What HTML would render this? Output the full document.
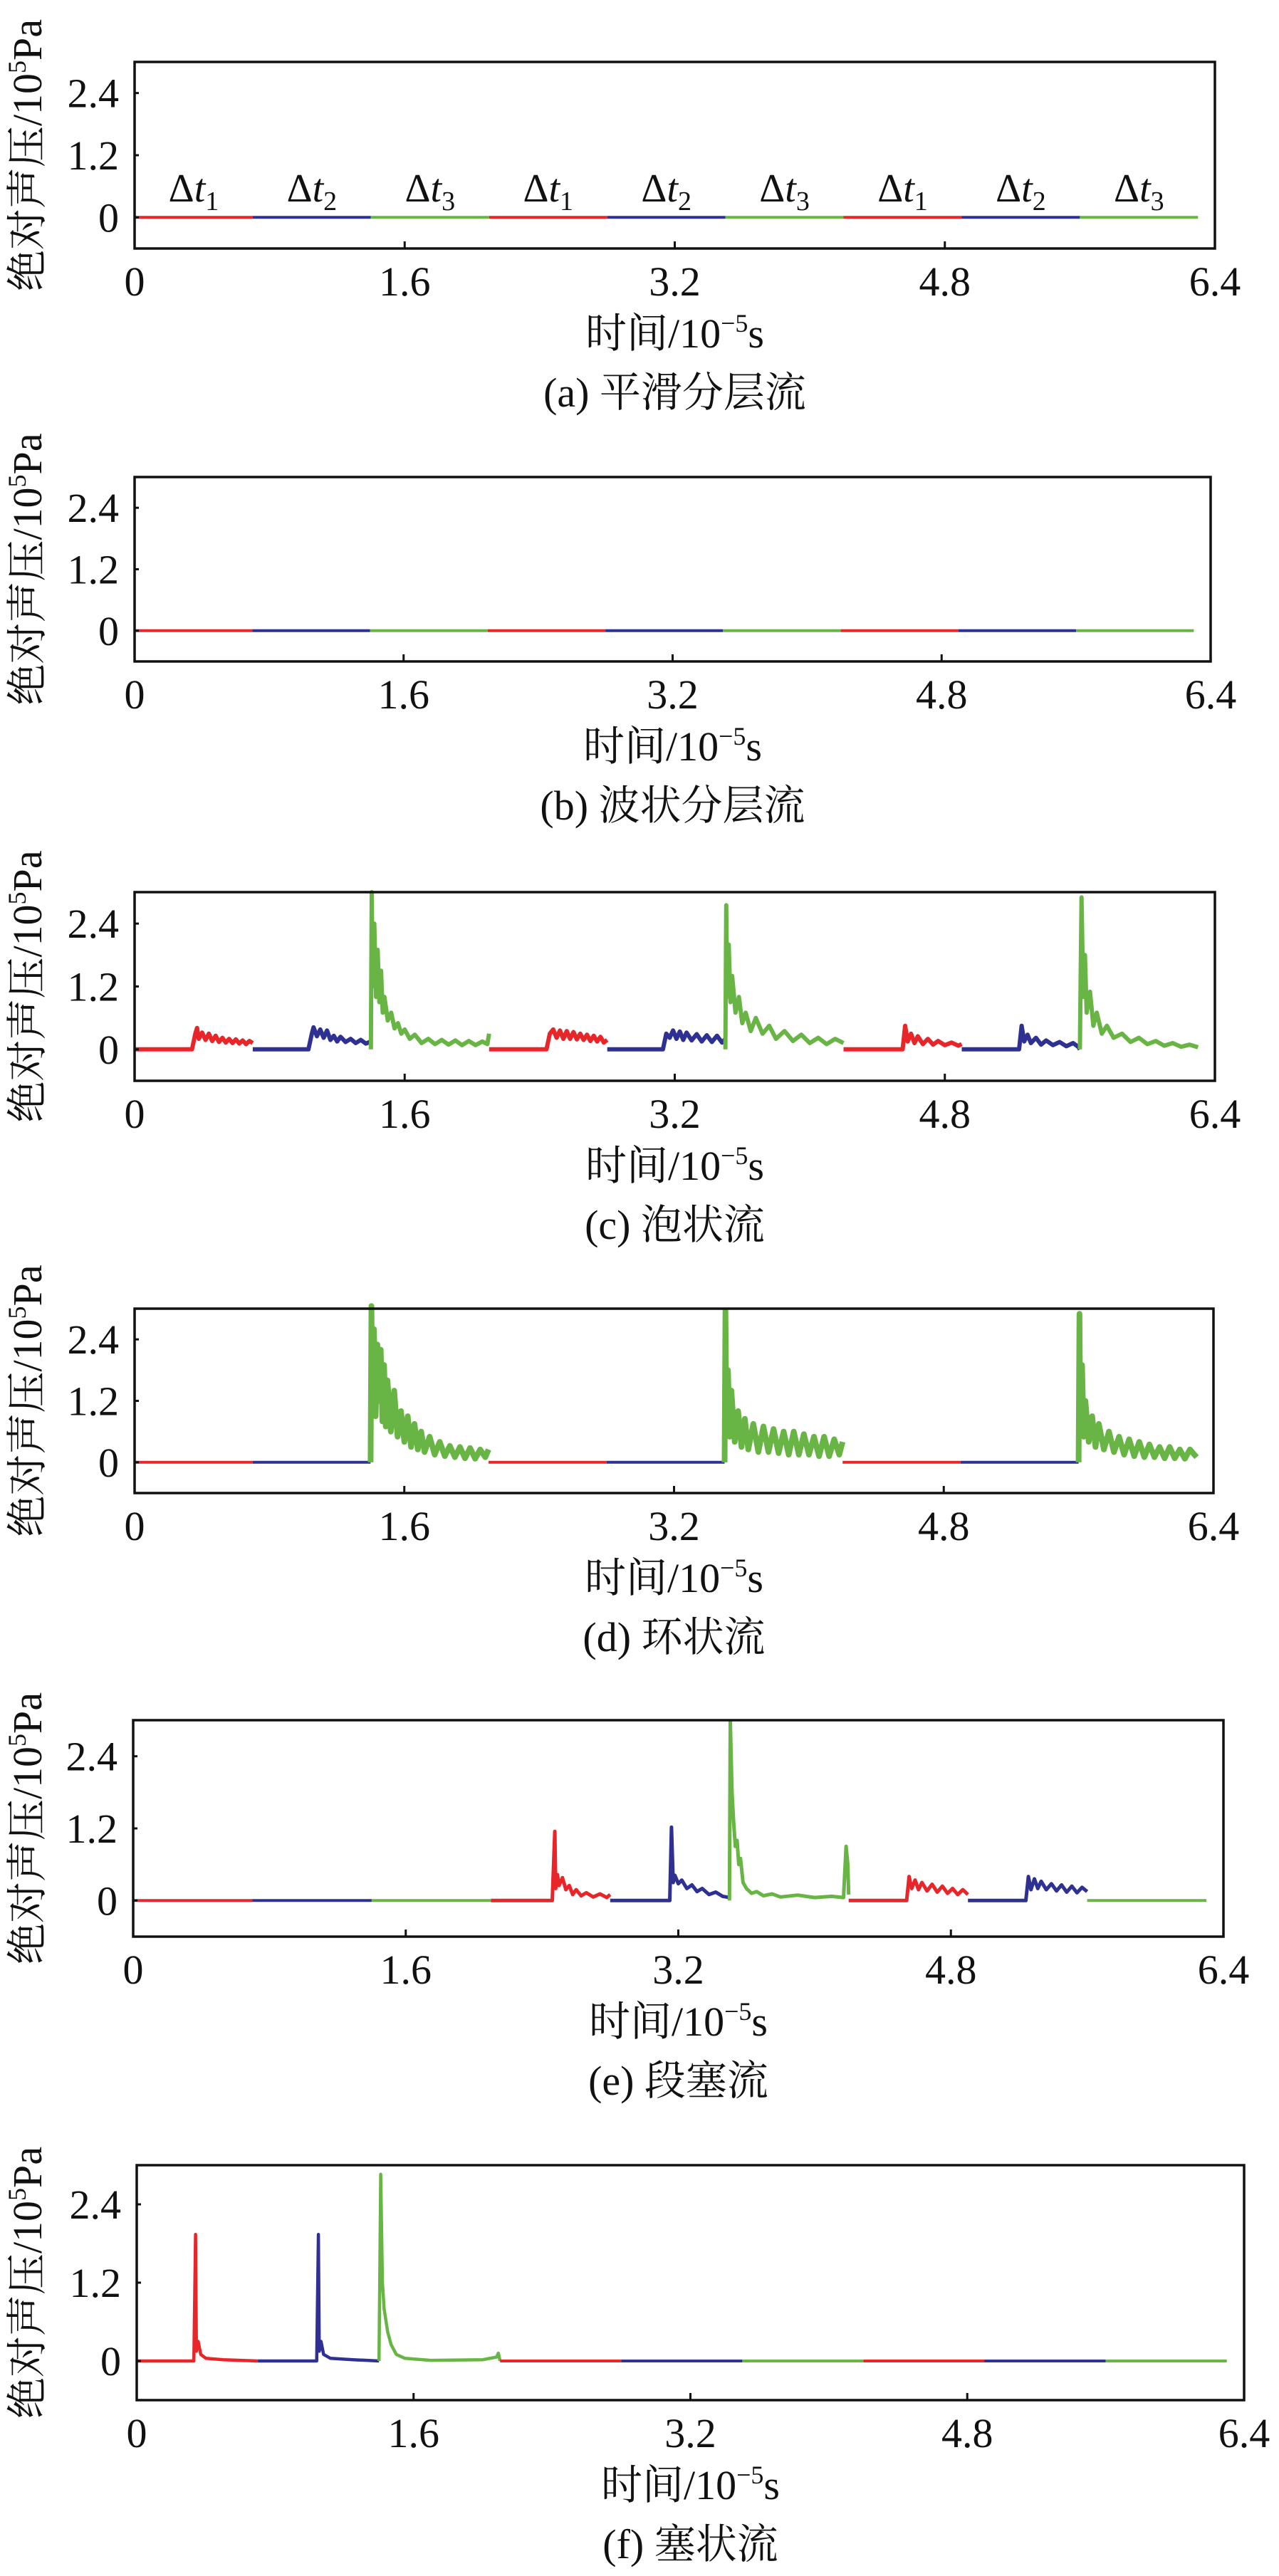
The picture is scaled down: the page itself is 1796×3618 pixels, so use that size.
<!DOCTYPE html>
<html><head><meta charset="utf-8">
<style>
html,body{margin:0;padding:0;background:#fff;}
svg{display:block;}
text{font-family:"Liberation Serif","Noto Serif CJK SC",serif;fill:#111;}
</style></head>
<body>
<svg id="fig" width="1796" height="3618" viewBox="0 0 1796 3618" xmlns="http://www.w3.org/2000/svg"></svg>
<script>
const xTicks = [0, 1.6, 3.2, 4.8, 6.4];
const xTickLabels = ["0", "1.6", "3.2", "4.8", "6.4"];
const yTicks = [0, 1.2, 2.4];
const yTickLabels = ["0", "1.2", "2.4"];
const segStarts = [0, 0.7, 1.4, 2.1, 2.8, 3.5, 4.2, 4.9, 5.6];
const segLen = 0.7;
const segColors = ["#e8262a", "#2e3192", "#68b545"];
const dtLabels = ["1","2","3","1","2","3","1","2","3"];
const captions = ["(a) 平滑分层流","(b) 波状分层流","(c) 泡状流","(d) 环状流","(e) 段塞流","(f) 塞状流"];

// panel (c) bubbly flow
const c_r1 = [[0,0],[0.34,0],[0.36,0.3],[0.37,0.41],[0.38,0.2],[0.40,0.32],[0.42,0.18],[0.44,0.3],[0.46,0.16],[0.48,0.26],[0.50,0.14],[0.52,0.22],[0.54,0.13],[0.56,0.2],[0.58,0.12],[0.60,0.19],[0.62,0.11],[0.64,0.17],[0.66,0.1],[0.68,0.16],[0.70,0.12]];
const c_b1 = [[0.70,0],[1.03,0],[1.05,0.3],[1.06,0.42],[1.08,0.25],[1.10,0.38],[1.12,0.22],[1.14,0.36],[1.16,0.18],[1.18,0.26],[1.20,0.15],[1.22,0.24],[1.25,0.14],[1.28,0.2],[1.31,0.12],[1.34,0.18],[1.37,0.11],[1.40,0.15]];
const c_g1 = [[1.40,0],[1.405,3.0],[1.41,1.2],[1.42,2.4],[1.43,1.0],[1.44,1.9],[1.45,0.9],[1.46,1.5],[1.47,0.7],[1.48,1.0],[1.50,0.55],[1.52,0.7],[1.54,0.4],[1.56,0.5],[1.58,0.3],[1.60,0.38],[1.63,0.2],[1.66,0.28],[1.70,0.12],[1.74,0.2],[1.78,0.1],[1.82,0.18],[1.86,0.09],[1.90,0.17],[1.94,0.08],[1.98,0.16],[2.02,0.08],[2.06,0.15],[2.09,0.1],[2.10,0.3]];
const c_r2 = [[2.10,0],[2.44,0],[2.46,0.3],[2.48,0.38],[2.50,0.22],[2.52,0.36],[2.54,0.2],[2.56,0.35],[2.58,0.2],[2.60,0.33],[2.62,0.19],[2.64,0.3],[2.66,0.18],[2.68,0.28],[2.70,0.16],[2.72,0.26],[2.74,0.15],[2.76,0.24],[2.78,0.13],[2.80,0.18]];
const c_b2 = [[2.80,0],[3.13,0],[3.15,0.3],[3.17,0.22],[3.19,0.36],[3.21,0.2],[3.23,0.34],[3.25,0.18],[3.27,0.32],[3.30,0.17],[3.33,0.29],[3.36,0.15],[3.39,0.27],[3.42,0.14],[3.45,0.26],[3.48,0.13],[3.50,0.2]];
const c_g2 = [[3.50,0],[3.505,2.75],[3.51,1.0],[3.52,2.0],[3.53,0.9],[3.54,1.4],[3.56,0.7],[3.58,1.0],[3.60,0.5],[3.62,0.7],[3.65,0.35],[3.68,0.6],[3.72,0.3],[3.76,0.45],[3.80,0.2],[3.85,0.35],[3.90,0.16],[3.95,0.28],[4.00,0.12],[4.05,0.22],[4.10,0.1],[4.15,0.2],[4.20,0.12]];
const c_r3 = [[4.20,0],[4.55,0],[4.565,0.45],[4.58,0.15],[4.60,0.3],[4.62,0.12],[4.64,0.25],[4.67,0.1],[4.70,0.2],[4.73,0.09],[4.76,0.16],[4.80,0.08],[4.84,0.13],[4.88,0.07],[4.90,0.1]];
const c_b3 = [[4.90,0],[5.24,0],[5.255,0.45],[5.27,0.15],[5.29,0.28],[5.31,0.12],[5.34,0.22],[5.37,0.09],[5.40,0.17],[5.44,0.08],[5.48,0.14],[5.52,0.06],[5.56,0.12],[5.59,0.05],[5.60,0]];
const c_g3 = [[5.60,0],[5.61,2.9],[5.62,1.0],[5.63,1.8],[5.64,0.7],[5.66,1.1],[5.68,0.45],[5.70,0.7],[5.73,0.3],[5.76,0.45],[5.80,0.22],[5.85,0.3],[5.90,0.14],[5.95,0.22],[6.00,0.1],[6.05,0.16],[6.10,0.07],[6.15,0.12],[6.20,0.05],[6.25,0.09],[6.30,0.04]];

// panel (d) annular flow
const d_g1 = [[1.40,0],[1.405,3.05],[1.41,1.0],[1.42,2.6],[1.43,0.9],[1.44,2.3],[1.45,1.2],[1.46,2.2],[1.47,0.8],[1.48,1.9],[1.49,0.7],[1.50,1.6],[1.52,0.6],[1.54,1.4],[1.56,0.5],[1.58,1.0],[1.60,0.4],[1.62,0.9],[1.64,0.3],[1.66,0.75],[1.68,0.25],[1.70,0.6],[1.72,0.2],[1.75,0.5],[1.78,0.15],[1.81,0.4],[1.84,0.12],[1.87,0.32],[1.90,0.1],[1.93,0.3],[1.96,0.08],[1.99,0.28],[2.02,0.07],[2.05,0.25],[2.08,0.1],[2.10,0.25]];
const d_g2 = [[3.50,0],[3.505,2.95],[3.51,0.8],[3.52,1.8],[3.53,0.5],[3.54,1.4],[3.56,0.4],[3.58,1.0],[3.60,0.3],[3.62,0.85],[3.64,0.25],[3.67,0.75],[3.70,0.2],[3.73,0.7],[3.76,0.2],[3.79,0.65],[3.82,0.18],[3.85,0.6],[3.88,0.15],[3.91,0.6],[3.94,0.15],[3.97,0.55],[4.00,0.15],[4.03,0.5],[4.06,0.12],[4.09,0.5],[4.12,0.12],[4.15,0.45],[4.18,0.15],[4.20,0.4]];
const d_g3 = [[5.60,0],[5.605,2.9],[5.61,0.7],[5.62,1.9],[5.63,0.5],[5.64,1.2],[5.66,0.4],[5.68,0.9],[5.70,0.3],[5.72,0.75],[5.75,0.25],[5.78,0.6],[5.81,0.2],[5.84,0.5],[5.87,0.15],[5.90,0.45],[5.93,0.12],[5.96,0.4],[5.99,0.1],[6.02,0.35],[6.05,0.1],[6.08,0.3],[6.11,0.08],[6.14,0.3],[6.17,0.08],[6.20,0.25],[6.23,0.07],[6.26,0.25],[6.30,0.1]];

// panel (e) slug flow
const e_r2 = [[2.10,0],[2.46,0],[2.475,1.15],[2.48,0.2],[2.49,0.43],[2.50,0.25],[2.52,0.38],[2.54,0.18],[2.56,0.25],[2.58,0.1],[2.60,0.18],[2.63,0.08],[2.66,0.13],[2.70,0.06],[2.74,0.11],[2.78,0.05],[2.80,0.1]];
const e_b2 = [[2.80,0],[3.15,0],[3.16,1.22],[3.17,0.3],[3.18,0.42],[3.20,0.28],[3.22,0.34],[3.25,0.2],[3.28,0.26],[3.31,0.15],[3.34,0.2],[3.38,0.1],[3.42,0.14],[3.46,0.07],[3.50,0.05]];
const e_g2 = [[3.50,0],[3.505,2.98],[3.515,1.8],[3.525,1.3],[3.535,0.9],[3.545,1.0],[3.555,0.6],[3.565,0.7],[3.58,0.3],[3.60,0.2],[3.63,0.12],[3.66,0.15],[3.70,0.08],[3.75,0.11],[3.80,0.06],[3.90,0.09],[4.00,0.05],[4.10,0.07],[4.17,0.05],[4.185,0.9],[4.195,0.6],[4.20,0.1]];
const e_r3 = [[4.20,0],[4.54,0],[4.555,0.4],[4.57,0.2],[4.59,0.34],[4.61,0.18],[4.63,0.3],[4.66,0.16],[4.69,0.27],[4.72,0.14],[4.75,0.24],[4.78,0.12],[4.81,0.2],[4.84,0.1],[4.87,0.18],[4.90,0.1]];
const e_b3 = [[4.90,0],[5.24,0],[5.255,0.4],[5.27,0.18],[5.29,0.36],[5.31,0.2],[5.33,0.32],[5.36,0.18],[5.39,0.28],[5.42,0.16],[5.45,0.26],[5.48,0.14],[5.51,0.24],[5.54,0.13],[5.57,0.22],[5.60,0.15]];

// panel (f) plug flow
const f_r1 = [[0,0],[0.33,0],[0.34,1.94],[0.345,0.15],[0.355,0.3],[0.37,0.1],[0.40,0.04],[0.50,0.02],[0.70,0]];
const f_b1 = [[0.70,0],[1.04,0],[1.05,1.94],[1.055,0.15],[1.065,0.3],[1.08,0.1],[1.12,0.04],[1.25,0.02],[1.40,0]];
const f_g1 = [[1.40,0],[1.41,2.86],[1.42,1.2],[1.43,0.8],[1.45,0.45],[1.47,0.25],[1.50,0.1],[1.55,0.04],[1.70,0.01],[2.00,0.02],[2.08,0.06],[2.09,0.12],[2.10,0]];

const panelTraces = [
  [null,null,null,null,null,null,null,null,null],
  [null,null,null,null,null,null,null,null,null],
  [c_r1,c_b1,c_g1,c_r2,c_b2,c_g2,c_r3,c_b3,c_g3],
  [null,null,d_g1,null,null,d_g2,null,null,d_g3],
  [null,null,null,e_r2,e_b2,e_g2,e_r3,e_b3,null],
  [f_r1,f_b1,f_g1,null,null,null,null,null,null]
];

const layout = [
  {l:189,r:1706,t:87,b:349,w:5},
  {l:189,r:1700,t:670,b:929,w:5},
  {l:189,r:1706,t:1253,b:1518,w:6},
  {l:189,r:1704,t:1838,b:2097,w:8},
  {l:187,r:1718,t:2416,b:2720,w:5},
  {l:192,r:1747,t:3041,b:3371,w:4.5}
];
const X_MIN=0, X_MAX=6.4, Y_MIN=-0.6, Y_MAX=3.0;
const NS="http://www.w3.org/2000/svg";
const svg=document.getElementById('fig');
function mk(tag,attrs,parent){const e=document.createElementNS(NS,tag);for(const k in attrs)e.setAttribute(k,attrs[k]);(parent||svg).appendChild(e);return e;}

layout.forEach((p,pi)=>{
  const sx=v=>p.l+(v-X_MIN)/(X_MAX-X_MIN)*(p.r-p.l);
  const sy=v=>p.b-(v-Y_MIN)/(Y_MAX-Y_MIN)*(p.b-p.t);
  const g=mk('g',{});
  
  
  segStarts.forEach((s,si)=>{
    const active=!!panelTraces[pi][si];
    const data=panelTraces[pi][si]||[[s,0],[s+segLen,0]];
    const pts=data.map(d=>sx(d[0]).toFixed(1)+','+sy(d[1]).toFixed(1)).join(' ');
    const pl=mk('polyline',{points:pts,fill:'none',stroke:segColors[si%3],'stroke-width':active?p.w:4,'stroke-linejoin':'round'},g);
    
    
  });
  const fr=mk('rect',{x:p.l,y:p.t,width:p.r-p.l,height:p.b-p.t,fill:'none',stroke:'#111','stroke-width':3.5},g);
  
  
  xTicks.forEach((v,i)=>{
    if(i>0&&i<xTicks.length-1){
      const tk=mk('line',{x1:sx(v),x2:sx(v),y1:p.b,y2:p.b-10,stroke:'#111','stroke-width':3},g);
      
      
    }
    const tl=mk('text',{x:sx(v),y:p.b+66,'font-size':58,'text-anchor':'middle'},g);
    tl.textContent=xTickLabels[i];
    
    
  });
  yTicks.forEach((v,i)=>{
    const tk=mk('line',{x1:p.l,x2:p.l+6,y1:sy(v),y2:sy(v),stroke:'#111','stroke-width':3},g);
    
    
    const tl=mk('text',{x:p.l-22,y:sy(v)+20,'font-size':58,'text-anchor':'end'},g);
    tl.textContent=yTickLabels[i];
    
    
  });
  const cy=(p.t+p.b)/2;
  const yt=mk('text',{x:0,y:0,'font-size':58,'text-anchor':'middle',transform:`translate(58,${cy}) rotate(-90)`},g);
  yt.innerHTML='绝对声压/10<tspan dy="-22" font-size="36">5</tspan><tspan dy="22">Pa</tspan>';
  
  
  const cx=(p.l+p.r)/2;
  const xt=mk('text',{x:cx,y:p.b+139,'font-size':58,'text-anchor':'middle'},g);
  xt.innerHTML='时间/10<tspan dy="-22" font-size="36">−5</tspan><tspan dy="22">s</tspan>';
  
  
  const cp=mk('text',{x:cx,y:p.b+222,'font-size':58,'text-anchor':'middle'},g);
  cp.textContent=captions[pi];
  
  
  if(pi===0){
    segStarts.forEach((s,si)=>{
      const t=mk('text',{x:sx(s+segLen/2),y:283,'font-size':56,'text-anchor':'middle'},g);
      t.innerHTML='Δ<tspan font-style="italic">t</tspan><tspan dy="12" font-size="38">'+dtLabels[si]+'</tspan>';
      
      
    });
  }
});
</script>
</body></html>
